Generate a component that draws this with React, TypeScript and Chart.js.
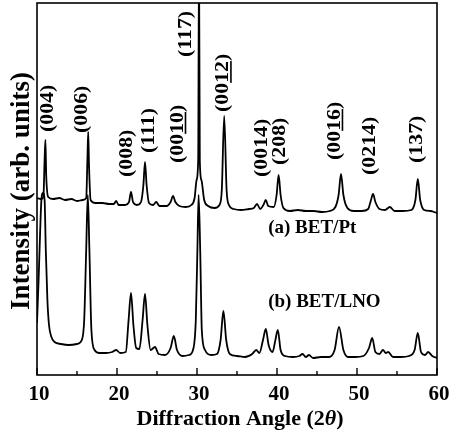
import React, { useEffect, useRef } from "react";
import { Chart, registerables } from "chart.js";

Chart.register(...registerables);

// ---- Data (2θ in degrees, intensity in arbitrary units) ----
const A_X = [10.0, 10.5, 10.8, 10.95, 11.05, 11.15, 11.4, 12.0, 12.8, 13.5, 14.3, 15.0, 15.7, 16.15, 16.3, 16.4, 16.5, 16.7, 17.3, 18.2, 19.0, 19.6, 19.9, 20.2, 21.0, 21.5, 21.75, 22.0, 22.5, 23.0, 23.3, 23.5, 23.7, 24.0, 24.5, 24.9, 25.3, 26.2, 26.7, 27.0, 27.3, 27.8, 28.6, 29.3, 29.7, 29.95, 30.15, 30.25, 30.35, 30.55, 30.9, 31.4, 32.2, 32.8, 33.1, 33.4, 33.7, 34.0, 34.6, 35.5, 36.5, 37.1, 37.5, 37.9, 38.3, 38.6, 38.9, 39.6, 39.95, 40.2, 40.45, 40.8, 41.6, 42.6, 43.6, 44.6, 45.6, 46.6, 47.3, 47.7, 48.0, 48.3, 48.8, 49.6, 50.6, 51.4, 51.75, 52.0, 52.3, 52.8, 53.5, 54.1, 54.7, 55.7, 56.8, 57.3, 57.6, 57.9, 58.4, 59.2, 60.0];
const A_Y = [177, 176, 178, 215, 235, 200, 178, 176, 177, 175, 176, 174, 175, 177, 215, 243, 210, 175, 172, 172, 171, 171, 174, 170, 170, 173, 183, 173, 170, 173, 190, 213, 190, 172, 170, 173, 169, 169, 173, 179, 173, 169, 168, 170, 177, 195, 215, 420, 215, 195, 175, 169, 167, 170, 185, 259, 185, 170, 166, 165, 166, 167, 171, 166, 170, 175, 169, 168, 180, 200, 180, 167, 164, 165, 164, 164, 163, 164, 168, 180, 201, 180, 167, 164, 164, 166, 175, 181, 173, 166, 165, 168, 164, 164, 165, 175, 196, 175, 165, 164, 162];

const B_X = [10.0, 10.2, 10.4, 10.55, 10.75, 10.95, 11.1, 11.3, 11.5, 11.8, 12.2, 13.0, 14.0, 15.0, 15.6, 15.9, 16.15, 16.35, 16.55, 16.8, 17.2, 17.8, 18.6, 19.4, 19.9, 20.4, 21.1, 21.45, 21.75, 22.05, 22.4, 22.8, 23.2, 23.5, 23.8, 24.2, 24.75, 25.2, 26.0, 26.7, 27.1, 27.5, 28.2, 29.0, 29.5, 29.85, 30.05, 30.2, 30.4, 30.6, 31.0, 31.8, 32.5, 32.95, 33.3, 33.65, 34.1, 35.0, 36.0, 36.9, 37.4, 37.8, 38.25, 38.6, 38.95, 39.45, 39.8, 40.1, 40.45, 41.0, 42.0, 42.8, 43.2, 43.6, 44.0, 44.5, 45.5, 46.5, 47.2, 47.75, 48.3, 48.9, 49.8, 50.8, 51.5, 51.9, 52.3, 52.8, 53.25, 53.6, 53.9, 54.5, 55.5, 56.5, 57.2, 57.6, 58.0, 58.5, 58.9, 59.4, 60.0];
const B_Y = [52, 95, 145, 175, 182, 175, 125, 75, 50, 38, 33, 31, 30, 31, 35, 55, 125, 180, 125, 45, 25, 22, 22, 23, 25, 22, 23, 55, 82, 50, 27, 26, 55, 81, 50, 25, 28, 21, 20, 27, 39, 25, 19, 20, 25, 55, 125, 180, 125, 45, 25, 20, 21, 35, 64, 35, 21, 19, 18, 21, 25, 22, 35, 46, 30, 23, 35, 45, 25, 19, 18, 19, 21, 18, 20, 17, 18, 18, 25, 48, 25, 18, 18, 19, 27, 37, 23, 21, 25, 22, 23, 18, 18, 19, 25, 42, 23, 20, 23, 19, 17];

const X_MIN = 10;
const X_MAX = 60;
const Y_MIN = 0;
const Y_MAX = 372;
const X_MAJOR_TICKS = [10, 20, 30, 40, 50, 60];
const X_TICK_LABELS = ["10", "20", "30", "40", "50", "60"];
const X_MINOR_TICKS = [15, 25, 35, 45, 55];

const X_TITLE_MAIN = "Diffraction Angle (2";
const X_TITLE_SYMBOL = "θ";
const X_TITLE_END = ")";
const Y_TITLE = "Intensity (arb. units)";

const PEAK_LABELS = ["(004)", "(006)", "(008)", "(111)", "(0010)", "(117)", "(0012)", "(0014)", "(208)", "(0016)", "(0214)", "(137)"];
const PEAK_LABEL_X = [11.44, 15.69, 21.31, 24.06, 27.63, 28.69, 33.31, 38.19, 40.38, 47.25, 51.69, 57.56];
const PEAK_LABEL_Y = [243, 242, 198, 222, 212, 318, 263, 198, 210, 215, 200, 212];
const PEAK_UNDERLINE: (number[] | null)[] = [null, null, null, null, [3, 5], null, [3, 5], null, null, [3, 5], null, null];

const SERIES_LABELS = ["(a) BET/Pt", "(b) BET/LNO"];
const SERIES_LABEL_X = [38.9, 38.9];
const SERIES_LABEL_Y = [142, 68];

const FONT = '"Liberation Serif", "Times New Roman", serif';

const textPlugin = {
  id: "xrdText",
  afterDatasetsDraw(chart: any) {
    const { ctx, chartArea, scales } = chart;
    const xs = scales.x;
    const ys = scales.y;
    const { left, right, top, bottom } = chartArea;
    ctx.save();
    ctx.fillStyle = "#000";
    ctx.strokeStyle = "#000";

    // frame
    ctx.lineWidth = 1.6;
    ctx.strokeRect(left, top, right - left, bottom - top);

    // ticks (inward)
    ctx.lineWidth = 1.4;
    ctx.beginPath();
    X_MAJOR_TICKS.forEach((v) => {
      const px = xs.getPixelForValue(v);
      ctx.moveTo(px, bottom);
      ctx.lineTo(px, bottom - 7);
    });
    X_MINOR_TICKS.forEach((v) => {
      const px = xs.getPixelForValue(v);
      ctx.moveTo(px, bottom);
      ctx.lineTo(px, bottom - 4);
    });
    ctx.stroke();

    // tick labels
    ctx.font = `bold 21px ${FONT}`;
    ctx.textAlign = "center";
    ctx.textBaseline = "alphabetic";
    X_MAJOR_TICKS.forEach((v, i) => {
      ctx.fillText(X_TICK_LABELS[i], xs.getPixelForValue(v) + 2, bottom + 25);
    });

    // x title
    const cx = (left + right) / 2 + 3;
    ctx.font = `bold 22px ${FONT}`;
    const w1 = ctx.measureText(X_TITLE_MAIN).width;
    ctx.font = `bold italic 22px ${FONT}`;
    const w2 = ctx.measureText(X_TITLE_SYMBOL).width;
    ctx.font = `bold 22px ${FONT}`;
    const w3 = ctx.measureText(X_TITLE_END).width;
    let sx = cx - (w1 + w2 + w3) / 2;
    const ty = bottom + 50;
    ctx.textAlign = "left";
    ctx.fillText(X_TITLE_MAIN, sx, ty);
    sx += w1;
    ctx.font = `bold italic 22px ${FONT}`;
    ctx.fillText(X_TITLE_SYMBOL, sx, ty);
    sx += w2;
    ctx.font = `bold 22px ${FONT}`;
    ctx.fillText(X_TITLE_END, sx, ty);

    // y title
    ctx.save();
    ctx.translate(29, (top + bottom) / 2 + 2);
    ctx.rotate(-Math.PI / 2);
    ctx.font = `bold 27px ${FONT}`;
    ctx.textAlign = "center";
    ctx.fillText(Y_TITLE, 0, 0);
    ctx.restore();

    // peak labels (rotated)
    const fs = 19;
    PEAK_LABELS.forEach((t, i) => {
      const px = xs.getPixelForValue(PEAK_LABEL_X[i]);
      const py = ys.getPixelForValue(PEAK_LABEL_Y[i]);
      ctx.save();
      ctx.translate(px + 0.245 * fs, py);
      ctx.rotate(-Math.PI / 2);
      ctx.scale(1.15, 1);
      ctx.font = `bold ${fs}px ${FONT}`;
      ctx.textAlign = "left";
      ctx.textBaseline = "alphabetic";
      ctx.fillText(t, 0, 0);
      const u = PEAK_UNDERLINE[i];
      if (u) {
        const a = ctx.measureText(t.slice(0, u[0])).width;
        const b = ctx.measureText(t.slice(0, u[1])).width;
        ctx.fillRect(a, 2, b - a, 1.6);
      }
      ctx.restore();
    });

    // series labels
    ctx.font = `bold 19px ${FONT}`;
    ctx.textAlign = "left";
    ctx.textBaseline = "alphabetic";
    SERIES_LABELS.forEach((t, i) => {
      ctx.fillText(t, xs.getPixelForValue(SERIES_LABEL_X[i]), ys.getPixelForValue(SERIES_LABEL_Y[i]));
    });

    ctx.restore();
  },
};

export default function App() {
  const ref = useRef<HTMLCanvasElement | null>(null);
  useEffect(() => {
    document.body.style.margin = "0";
    const canvas = ref.current;
    if (!canvas) return;
    const toPts = (xs: number[], ys: number[]) => xs.map((x, i) => ({ x, y: ys[i] }));
    const chart = new Chart(canvas, {
      type: "scatter",
      data: {
        datasets: [
          {
            label: "(a) BET/Pt",
            data: toPts(A_X, A_Y),
            showLine: true,
            borderColor: "#000",
            borderWidth: 1.8,
            pointRadius: 0,
            cubicInterpolationMode: "monotone",
          },
          {
            label: "(b) BET/LNO",
            data: toPts(B_X, B_Y),
            showLine: true,
            borderColor: "#000",
            borderWidth: 1.8,
            pointRadius: 0,
            cubicInterpolationMode: "monotone",
          },
        ],
      },
      options: {
        animation: false,
        responsive: false,
        devicePixelRatio: 1,
        layout: { padding: { left: 37, right: 13, top: 3, bottom: 60 } },
        scales: {
          x: { type: "linear", min: X_MIN, max: X_MAX, display: false },
          y: { type: "linear", min: Y_MIN, max: Y_MAX, display: false },
        },
        plugins: { legend: { display: false }, tooltip: { enabled: false } },
      },
      plugins: [textPlugin],
    } as any);
    return () => chart.destroy();
  }, []);
  return (
    <div style={{ position: "fixed", left: 0, top: 0, width: 450, height: 435, background: "#fff" }}>
      <canvas ref={ref} width={450} height={435} style={{ width: 450, height: 435 }} />
    </div>
  );
}
